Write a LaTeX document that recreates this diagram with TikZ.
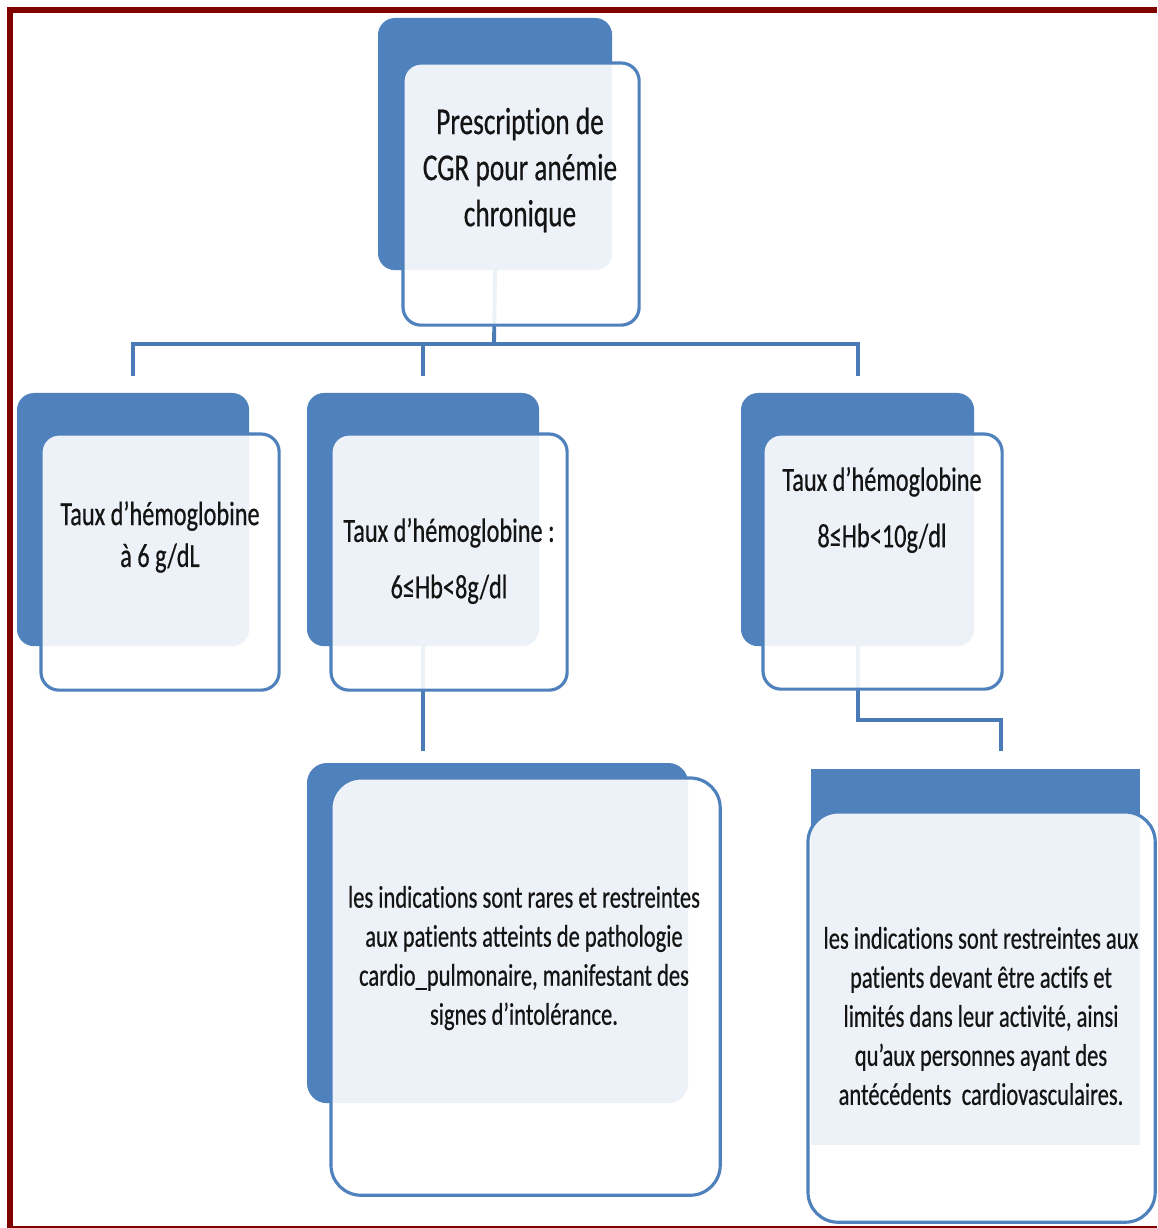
\documentclass[tikz,border=0pt]{standalone}
\usepackage{fontspec}
\setmainfont{Carlito}[FakeStretch=0.72, FakeBold=0.5, Ligatures=NoCommon]
\usetikzlibrary{calc}
\definecolor{accent}{HTML}{4F81BD}
\definecolor{linkblue}{HTML}{4A7BB7}
\definecolor{frame}{HTML}{800000}
\definecolor{ink}{HTML}{141414}
\tikzset{
  backbox/.style={fill=accent, rounded corners=0.17cm, inner sep=0, outer sep=0, anchor=north west},
  frontbox/.style={draw=accent, line width=0.9pt, fill=white, fill opacity=0.9,
    rounded corners=0.18cm, inner sep=0, outer sep=0, anchor=north west},
  conn/.style={draw=linkblue, line width=1.1pt},
  lbl/.style={align=center, text=ink, inner sep=0},
  bigtxt/.style={lbl, font=\fontsize{10.8pt}{13.1pt}\selectfont},
  midtxt/.style={lbl, font=\fontsize{9.6pt}{11.9pt}\selectfont},
  smalltxt/.style={lbl, font=\fontsize{8.9pt}{11.1pt}\selectfont},
}
\begin{document}
\begin{tikzpicture}[x=0.01cm, y=-0.01cm]
\useasboundingbox (0,0) rectangle (1157,1228);
\fill[white] (0,0) rectangle (1157,1228);

% frame
\fill[frame] (7,7) rectangle (13,1228);
\fill[frame] (7,7) rectangle (1157,13);
\fill[frame] (13,1226) rectangle (1157,1228);

% back panels
\node[backbox, minimum width=2.34cm, minimum height=2.52cm] (tb) at (378,18) {};
\node[backbox, minimum width=2.32cm, minimum height=2.53cm] (lb) at (17,393) {};
\node[backbox, minimum width=2.32cm, minimum height=2.53cm] (mb) at (307,393) {};
\node[backbox, minimum width=2.33cm, minimum height=2.53cm] (rb) at (741,393) {};
\node[backbox, rounded corners=0.2cm, minimum width=3.81cm, minimum height=3.40cm] (mbb) at (307,763) {};
\node[backbox, sharp corners, minimum width=3.29cm, minimum height=3.76cm] (rbb) at (811,769) {};

% connectors
\coordinate (bar) at (494,344);
\draw[conn] (tb.south) -- (bar);
\draw[conn] ($(lb.north)+(0,-17)$) |- (bar) -| ($(rb.north)+(0,-17)$);
\draw[conn] (bar -| mb.north) -- ($(mb.north)+(0,-17)$);
\draw[conn] (mb.south) -- ($(mb.south)+(0,105)$);
\draw[conn] (rb.south) -- ++(0,74) -| ++(143,31);

% front panels
\node[frontbox, minimum width=2.36cm, minimum height=2.62cm] (tf) at (403,63) {};
\node[frontbox, minimum width=2.38cm, minimum height=2.56cm] (lf) at (41,434) {};
\node[frontbox, minimum width=2.36cm, minimum height=2.56cm] (mf) at (331,434) {};
\node[frontbox, minimum width=2.39cm, minimum height=2.55cm] (rf) at (763,434) {};
\node[frontbox, rounded corners=0.3cm, minimum width=3.89cm, minimum height=4.17cm] (mbf) at (331,778) {};
\node[frontbox, rounded corners=0.3cm, minimum width=3.47cm, minimum height=4.10cm] (rbf) at (808,812) {};

% labels
\node[bigtxt] (tt) at (520,170) {Prescription de\\CGR pour anémie\\chronique};
\node[midtxt] (lt) at (160,537) {Taux d’hémoglobine\\à 6 g/dL};
\node[midtxt] (mt) at (449,561) {Taux d’hémoglobine :\\[0.9ex]6≤Hb<8g/dl};
\node[midtxt] (rt) at (882,510) {Taux d’hémoglobine\\[0.9ex]8≤Hb<10g/dl};
\node[smalltxt] (mbt) at (524,958) {les indications sont rares et restreintes\\aux patients atteints de pathologie\\cardio\_pulmonaire, manifestant des\\signes d’intolérance.};
\node[smalltxt] (rbt) at (981,1016) {les indications sont restreintes aux\\patients devant être actifs et\\limités dans leur activité, ainsi\\qu’aux personnes ayant des\\antécédents\, cardiovasculaires.};
\end{tikzpicture}
\end{document}
